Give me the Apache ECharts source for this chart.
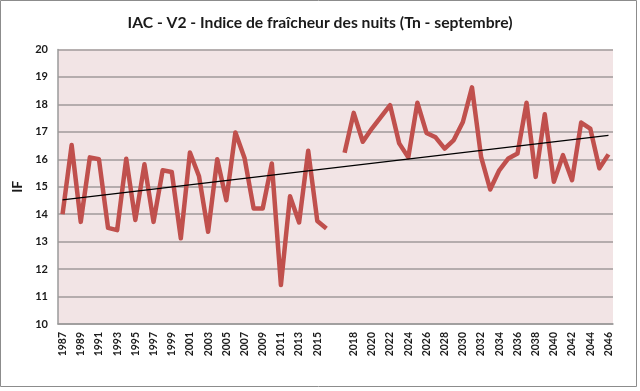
<!DOCTYPE html>
<html>
<head>
<meta charset="utf-8">
<script src="https://cdn.jsdelivr.net/npm/echarts@6/dist/echarts.min.js"></script>
<style>
html,body{margin:0;padding:0;background:#fff;}
#c{width:640px;height:391px;}
</style>
</head>
<body>
<div id="c"></div>
<script>
// Categories: 1987-2016 (observed), one blank slot, 2017-2046
const histYears = [1987,1988,1989,1990,1991,1992,1993,1994,1995,1996,1997,1998,1999,2000,2001,2002,2003,2004,2005,2006,2007,2008,2009,2010,2011,2012,2013,2014,2015,2016];
const projYears = [2017,2018,2019,2020,2021,2022,2023,2024,2025,2026,2027,2028,2029,2030,2031,2032,2033,2034,2035,2036,2037,2038,2039,2040,2041,2042,2043,2044,2045,2046];
const histValues = [14.0,16.52,13.72,16.07,16.0,13.5,13.42,16.02,13.79,15.82,13.72,15.6,15.54,13.12,16.25,15.38,13.36,16.0,14.51,16.98,16.05,14.21,14.21,15.85,11.42,14.65,13.7,16.31,13.75,13.48];
const projValues = [16.24,17.69,16.64,17.12,17.55,17.97,16.58,16.07,18.06,16.96,16.8,16.39,16.7,17.36,18.62,16.09,14.9,15.6,16.03,16.21,18.06,15.36,17.64,15.18,16.15,15.24,17.34,17.12,15.67,16.18];
const trendValues = [14.52, 16.87]; // trend line at first and last category
const yTicks = [10,11,12,13,14,15,16,17,18,19,20];

const categories = histYears.map(String).concat([''], projYears.map(String));
const seriesData = histValues.concat([null], projValues);
const trendData = [[categories[0], trendValues[0]], [categories[categories.length-1], trendValues[1]]];

const chart = echarts.init(document.getElementById('c'), null, {renderer:'canvas'});
chart.setOption({
  animation:false,
  backgroundColor:'#ffffff',
  title:{
    text:'IAC - V2 - Indice de fraîcheur des nuits (Tn - septembre)',
    left:'center', top:10,
    textStyle:{fontFamily:'Lato', fontWeight:'bold', fontSize:15.7, color:'#1a1a1a'}
  },
  graphic:[{
    type:'rect', shape:{x:0.5,y:0.5,width:636,height:386},
    style:{fill:null, stroke:'#8c8c8c', lineWidth:1}, z:-1
  }],
  grid:{left:58, right:27, top:49.5, bottom:67, show:true, backgroundColor:'#f2e4e5', borderWidth:0},
  xAxis:{
    type:'category', data:categories, boundaryGap:true,
    axisLine:{show:true, lineStyle:{color:'#9a9a9a', width:1.5}},
    axisTick:{show:false},
    axisLabel:{interval:1, rotate:90, fontFamily:'Lato', fontWeight:'bold', fontSize:10.5, color:'#1a1a1a', margin:8},
    splitLine:{show:false}
  },
  yAxis:{
    type:'value', min:yTicks[0], max:yTicks[yTicks.length-1], interval:1,
    name:'IF', nameLocation:'middle', nameGap:30, nameRotate:90,
    nameTextStyle:{fontFamily:'Lato', fontWeight:'bold', fontSize:14, color:'#1a1a1a'},
    axisLine:{show:true, lineStyle:{color:'#9a9a9a', width:1.5}},
    axisTick:{show:false},
    axisLabel:{fontFamily:'Lato', fontWeight:'bold', fontSize:11, color:'#1a1a1a', margin:10},
    splitLine:{show:true, lineStyle:{color:'#a09a9a', width:1.5}}
  },
  series:[
    {type:'line', data:seriesData, connectNulls:false, symbol:'none',
     lineStyle:{color:'#c0504d', width:4.5, join:'round'}, z:3},
    {type:'line', data:trendData, symbol:'none',
     lineStyle:{color:'#000000', width:1.2}, z:4}
  ]
});
</script>
</body>
</html>
